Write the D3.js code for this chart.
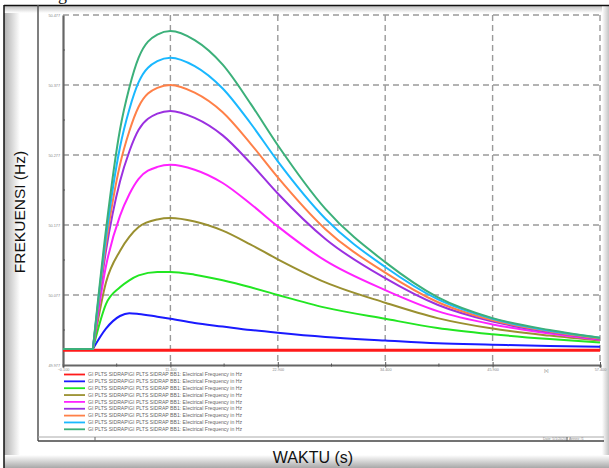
<!DOCTYPE html>
<html>
<head>
<meta charset="utf-8">
<script src="https://cdn.jsdelivr.net/npm/d3@7/dist/d3.min.js"></script>
<style>
  body { margin: 0; background: #fff; }
  svg { display: block; font-family: "Liberation Sans", Arial, sans-serif; }
</style>
</head>
<body>
<div id="chart"></div>
<script>
// Frequency response at GI PLTS SIDRAP BB1, 9 cases.

const times = [-0.1, 3.1, 4.5, 6, 7, 8, 10, 11.4, 14, 17, 20, 22.9, 28, 34.4, 40, 45.9, 52, 57.4];

const freqRed      = [49.998, 49.998, 49.998, 49.998, 49.998, 49.998, 49.998, 49.998, 49.998, 49.998, 49.998, 49.998, 49.998, 49.998, 49.998, 49.998, 49.998, 49.998];
const freqBlue     = [50.000, 50.000, 50.029, 50.047, 50.051, 50.050, 50.046, 50.043, 50.037, 50.032, 50.027, 50.023, 50.017, 50.012, 50.008, 50.006, 50.004, 50.003];
const freqGreen    = [50.000, 50.000, 50.064, 50.088, 50.098, 50.105, 50.110, 50.110, 50.106, 50.098, 50.088, 50.077, 50.059, 50.043, 50.030, 50.021, 50.014, 50.009];
const freqOlive    = [50.000, 50.000, 50.095, 50.140, 50.160, 50.174, 50.185, 50.187, 50.182, 50.169, 50.149, 50.128, 50.095, 50.066, 50.044, 50.029, 50.019, 50.012];
const freqMagenta  = [50.000, 50.000, 50.118, 50.190, 50.221, 50.243, 50.260, 50.263, 50.256, 50.237, 50.207, 50.175, 50.126, 50.084, 50.054, 50.035, 50.022, 50.013];
const freqPurple   = [50.000, 50.000, 50.140, 50.239, 50.282, 50.313, 50.336, 50.340, 50.330, 50.305, 50.265, 50.222, 50.157, 50.101, 50.063, 50.039, 50.024, 50.014];
const freqOrange   = [50.000, 50.000, 50.150, 50.263, 50.311, 50.346, 50.373, 50.377, 50.366, 50.338, 50.293, 50.245, 50.171, 50.109, 50.067, 50.041, 50.025, 50.015];
const freqSky      = [50.000, 50.000, 50.160, 50.288, 50.342, 50.381, 50.411, 50.416, 50.404, 50.372, 50.322, 50.268, 50.186, 50.117, 50.071, 50.043, 50.026, 50.016];
const freqSeaGreen = [50.000, 50.000, 50.170, 50.313, 50.373, 50.416, 50.449, 50.454, 50.441, 50.406, 50.350, 50.291, 50.200, 50.124, 50.074, 50.044, 50.027, 50.016];

const seriesValues = [freqRed, freqBlue, freqGreen, freqOlive, freqMagenta, freqPurple, freqOrange, freqSky, freqSeaGreen];
const seriesColors = ["#ff1a1a", "#1a1aff", "#22e622", "#9a9030", "#ff22ff", "#9b30e0", "#ff8048", "#1ab8ff", "#3cb07a"];
const legendLabel = "GI PLTS SIDRAP\\GI PLTS SIDRAP BB1: Electrical Frequency in Hz";

const xTicks = [-0.1, 11.4, 22.9, 34.4, 45.9, 57.4];
const xMinor = [5.65, 17.15, 28.65, 40.15];
const yTicks = [49.977, 50.077, 50.177, 50.277, 50.377, 50.477];
const yMinor = [50.027, 50.127, 50.227, 50.327, 50.427];

const W = 609, H = 468;
const svg = d3.select("#chart").append("svg").attr("width", W).attr("height", H);
const defs = svg.append("defs");

function grad(id, x1, y1, x2, y2, stops) {
  const g = defs.append("linearGradient").attr("id", id)
    .attr("x1", x1).attr("y1", y1).attr("x2", x2).attr("y2", y2);
  stops.forEach(([o, c]) => g.append("stop").attr("offset", o).attr("stop-color", c));
}
grad("gl", "0", "0", "1", "0", [["0", "#b0b0b0"], ["1", "#ffffff"]]);
grad("gt", "0", "0", "0", "1", [["0", "#b8b8b8"], ["1", "#ffffff"]]);
grad("gr", "0", "0", "1", "0", [["0", "#ffffff"], ["1", "#c4c4c4"]]);
grad("gb", "0", "0", "0", "1", [["0", "#ffffff"], ["1", "#a8a8a8"]]);

// page frame with soft shading
svg.append("rect").attr("width", W).attr("height", H).attr("fill", "#fff");
svg.append("rect").attr("x", 4).attr("y", 5).attr("width", 16).attr("height", H).attr("fill", "url(#gl)");
svg.append("rect").attr("x", 4).attr("y", 5).attr("width", W).attr("height", 8).attr("fill", "url(#gt)");
svg.append("rect").attr("x", 602).attr("y", 5).attr("width", 7).attr("height", H).attr("fill", "url(#gr)");
svg.append("rect").attr("x", 4).attr("y", 455).attr("width", W).attr("height", 13).attr("fill", "url(#gb)");
svg.append("line").attr("x1", 4).attr("x2", W).attr("y1", 5.5).attr("y2", 5.5).attr("stroke", "#111").attr("stroke-width", 1.5);
svg.append("line").attr("x1", 4).attr("x2", 4).attr("y1", 5).attr("y2", H).attr("stroke", "#111").attr("stroke-width", 1.5);

// inner frame
svg.append("line").attr("x1", 38).attr("x2", 38).attr("y1", 5).attr("y2", 441).attr("stroke", "#555").attr("stroke-width", 1.5);
svg.append("line").attr("x1", 38).attr("x2", 604).attr("y1", 437).attr("y2", 437).attr("stroke", "#aaa").attr("stroke-width", 1);
svg.append("line").attr("x1", 38).attr("x2", 604).attr("y1", 441).attr("y2", 441).attr("stroke", "#444").attr("stroke-width", 1.5);
svg.append("line").attr("x1", 95).attr("x2", 95).attr("y1", 437).attr("y2", 441).attr("stroke", "#666");
svg.append("text").attr("x", 543).attr("y", 439.5).attr("font-size", 3.5).attr("fill", "#888").text("Date: 5/1/2020");
svg.append("line").attr("x1", 567).attr("x2", 567).attr("y1", 437).attr("y2", 441).attr("stroke", "#555");
svg.append("text").attr("x", 569).attr("y", 439.5).attr("font-size", 3.5).attr("fill", "#888").text("Annex:   /1");

// stray glyph cut from the document above
svg.append("text").attr("x", 58).attr("y", 0).attr("font-family", "Liberation Serif, serif").attr("font-size", 18).attr("fill", "#111").text("g");

// scales
const x = d3.scaleLinear().domain([-0.1, 57.4]).range([63, 600]);
const y = d3.scaleLinear().domain([49.977, 50.477]).range([365, 15]);

// grid
const grid = svg.append("g").attr("stroke", "#9a9a9a").attr("stroke-width", 1.4).attr("stroke-dasharray", "6,4");
grid.selectAll("line.h").data(yTicks.slice(1)).join("line").attr("class", "h")
  .attr("x1", x(-0.1)).attr("x2", x(57.4)).attr("y1", d => y(d)).attr("y2", d => y(d));
grid.selectAll("line.v").data(xTicks.slice(1)).join("line").attr("class", "v")
  .attr("x1", d => x(d)).attr("x2", d => x(d)).attr("y1", y(50.477)).attr("y2", y(49.977));

// axes
const fmt = d3.format(".3f");
const gx = svg.append("g").attr("transform", `translate(0,${y(49.977)})`)
  .call(d3.axisBottom(x).tickValues(xTicks).tickFormat(fmt).tickSize(2.5).tickPadding(0.5));
gx.selectAll(".tick line").attr("y1", -3);
gx.append("g").selectAll("line").data(xMinor).join("line")
  .attr("x1", d => x(d)).attr("x2", d => x(d)).attr("y1", -1.5).attr("y2", 1.5).attr("stroke", "#555");
gx.append("text").attr("x", x(51.65)).attr("y", 6.5).attr("fill", "#777").attr("font-size", 4).attr("text-anchor", "middle").text("[s]");

const gy = svg.append("g").attr("transform", `translate(${x(-0.1)},0)`)
  .call(d3.axisLeft(y).tickValues(yTicks).tickFormat(fmt).tickSize(0).tickPadding(3));
gy.append("g").selectAll("line").data(yMinor).join("line")
  .attr("x1", 0).attr("x2", 2).attr("y1", d => y(d)).attr("y2", d => y(d)).attr("stroke", "#555");

svg.selectAll(".domain").attr("stroke", "#666").attr("stroke-width", 2.2);
svg.selectAll(".tick text").attr("fill", "#888").attr("font-size", 3.8);
gx.selectAll(".tick line").attr("stroke", "#555");

// curves: flat part straight, then smooth response
const lineGen = d3.line().x(d => x(d[0])).y(d => y(d[1])).curve(d3.curveMonotoneX);
const curves = svg.append("g").attr("fill", "none");
seriesValues.forEach((vals, i) => {
  const pts = times.map((t, k) => [t, vals[k]]);
  const tail = lineGen(pts.slice(1));
  curves.append("path")
    .attr("d", `M${x(pts[0][0])},${y(pts[0][1])}L` + tail.slice(1))
    .attr("stroke", seriesColors[i])
    .attr("stroke-width", i === 0 ? 3 : 2);
});

// legend
const legend = svg.append("g");
seriesColors.forEach((c, i) => {
  const ly = 374.5 + i * 6.85;
  legend.append("line").attr("x1", 64).attr("x2", 85).attr("y1", ly).attr("y2", ly)
    .attr("stroke", c).attr("stroke-width", 1.8);
  legend.append("text").attr("x", 88).attr("y", ly + 1.7).attr("font-size", 5).attr("fill", "#666")
    .attr("textLength", 154).attr("lengthAdjust", "spacingAndGlyphs").text(legendLabel);
});

// axis titles
svg.append("text").attr("transform", "translate(25,212) rotate(-90)")
  .attr("text-anchor", "middle").attr("font-size", 15.5).attr("fill", "#111").text("FREKUENSI (Hz)");
svg.append("text").attr("x", 313).attr("y", 463)
  .attr("text-anchor", "middle").attr("font-size", 16).attr("fill", "#111").text("WAKTU (s)");
</script>
</body>
</html>
